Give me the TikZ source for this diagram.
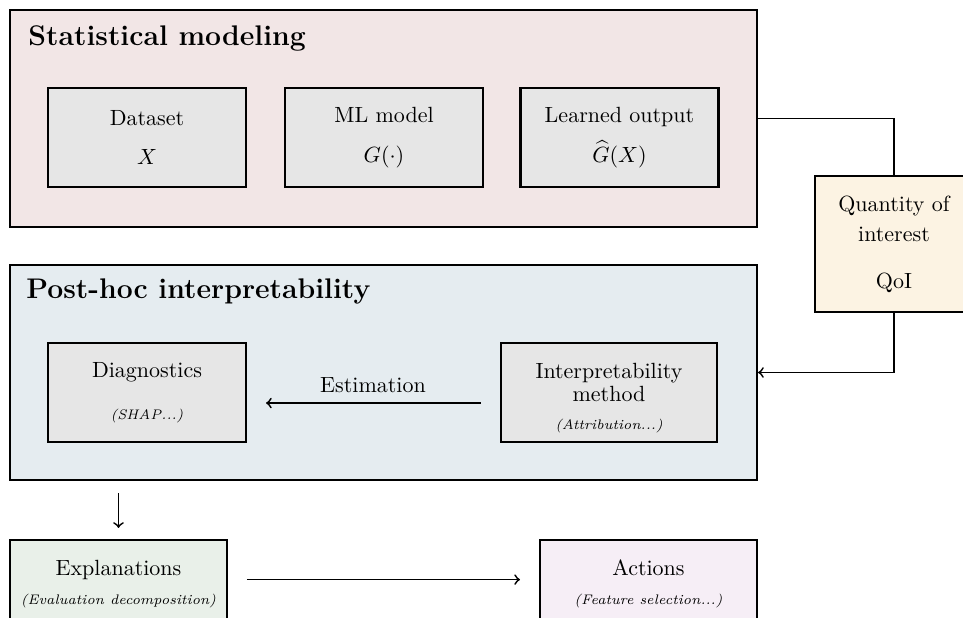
\documentclass[tikz,border=0pt]{standalone}
\usetikzlibrary{arrows}
\definecolor{statfill}{HTML}{F2E6E6}
\definecolor{hocfill}{HTML}{E5ECF0}
\definecolor{cellfill}{HTML}{E6E6E6}
\definecolor{qoifill}{HTML}{FCF3E3}
\definecolor{explfill}{HTML}{E9F0E9}
\definecolor{actfill}{HTML}{F6EEF6}
\begin{document}
\begin{tikzpicture}[x=0.4545pt,y=-0.4545pt,
	box/.style={draw,line width=1pt,align=center,inner sep=0pt},
	group/.style={box,minimum width=339.5pt},
	cell/.style={box,fill=cellfill,minimum width=90pt,minimum height=45pt},
	title/.style={anchor=base west,inner sep=0pt,font=\fontsize{12.9}{15}\selectfont\bfseries},
	note/.style={font=\fontsize{6.3}{7.5}\selectfont\itshape},
	link/.style={thick},
	every path/.style={>=to}
	]
	\clip (0,0) rectangle (963,617);
	\node[group,fill=statfill,minimum height=98.6pt](stat) at (383.5,118.5) {};
	\node[group,fill=hocfill,minimum height=97.7pt](hoc) at (383.5,372.5) {};
	\node[title](stattitle) at (28,45) {Statistical modeling};
	\node[title](hoctitle) at (26,298) {Post-hoc interpretability};
	\node[cell](data) at (147,137.5) {Dataset\\[6pt]$X$};
	\node[cell](model) at (384,137.5) {ML model\\[6pt]$G(\cdot)$};
	\node[cell](learned) at (619.5,137.5) {Learned output\\[6pt]$\widehat{G}(X)$};
	\node[box,fill=qoifill,minimum width=71.8pt,minimum height=61.8pt](qoi) at (894,244) {Quantity of\\[2pt]interest\\[9pt]QoI};
	\node[cell](diag) at (147,392.5) {Diagnostics\\[7pt]{\fontsize{6.3}{7.5}\selectfont\itshape (SHAP...)}};
	\node[cell,minimum width=98.2pt](interp) at (609,392.5) {\rule{0pt}{12pt}Interpretability\\[-1.5pt]method\\[1pt]{\fontsize{6.3}{7.5}\selectfont\itshape (Attribution...)}};
	\node[box,fill=explfill,minimum width=98.6pt,minimum height=40pt](expl) at (118.5,584) {Explanations\\[1pt]{\fontsize{6.3}{7.5}\selectfont\itshape (Evaluation decomposition)}};
	\node[box,fill=actfill,minimum width=98.6pt,minimum height=40pt](act) at (648.5,584) {Actions\\[1pt]{\fontsize{6.3}{7.5}\selectfont\itshape (Feature selection...)}};
	\node(est) at (373,385) {Estimation};
	\draw[link] (stat.east) -| (qoi.north);
	\draw[link,->] (qoi.south) |- (hoc.east);
	\draw[link,->,shorten <=8.6pt,shorten >=8.6pt] ([yshift=-4.8pt]interp.west) -- ([yshift=-4.8pt]diag.east);
	\draw[link,->,shorten <=5.5pt,shorten >=5pt] (hoc.south -| expl.north) -- (expl.north);
	\draw[link,->,shorten <=8.6pt,shorten >=8.6pt] ([yshift=2pt]expl.east) -- ([yshift=2pt]act.west);
\end{tikzpicture}
\end{document}
